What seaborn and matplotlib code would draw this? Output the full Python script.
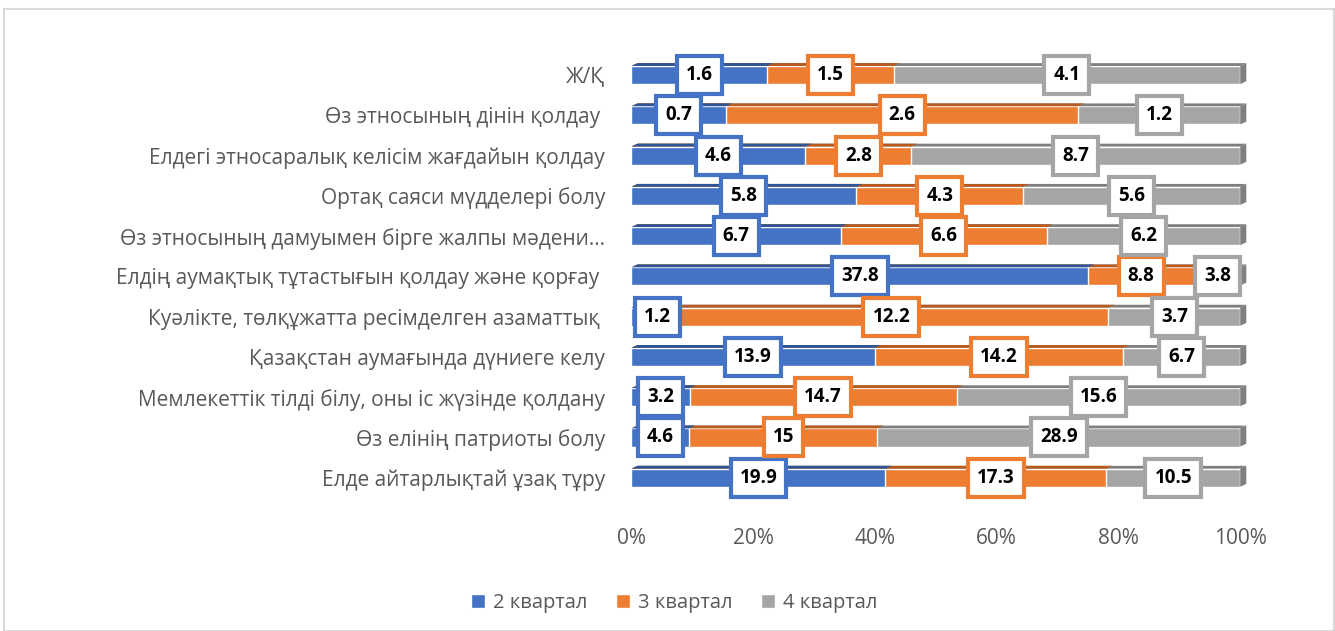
import numpy as np
import pandas as pd
import matplotlib
matplotlib.use("Agg")
import matplotlib.pyplot as plt
import seaborn as sns
from matplotlib.patches import Polygon, Rectangle

categories = ['Ж/Қ',
              'Өз этносының дінін қолдау ',
              'Елдегі этносаралық келісім жағдайын қолдау',
              'Ортақ саяси мүдделері болу',
              'Өз этносының дамуымен бірге жалпы мәдени...',
              'Елдің аумақтық тұтастығын қолдау және қорғау ',
              'Куәлікте, төлқұжатта ресімделген азаматтық ',
              'Қазақстан аумағында дүниеге келу',
              'Мемлекеттік тілді білу, оны іс жүзінде қолдану',
              'Өз елінің патриоты болу',
              'Елде айтарлықтай ұзақ тұру']
q2 = [1.6, 0.7, 4.6, 5.8, 6.7, 37.8, 1.2, 13.9, 3.2, 4.6, 19.9]
q3 = [1.5, 2.6, 2.8, 4.3, 6.6, 8.8, 12.2, 14.2, 14.7, 15, 17.3]
q4 = [4.1, 1.2, 8.7, 5.6, 6.2, 3.8, 3.7, 6.7, 15.6, 28.9, 10.5]
series = ['2 квартал', '3 квартал', '4 квартал']
ticks = [0, 20, 40, 60, 80, 100]

sns.set_theme(style="white")
plt.rcParams['font.family'] = ['Open Sans', 'DejaVu Sans']

colors = ['#4472C4', '#ED7D31', '#A5A5A5']
dark = ['#2F5597', '#B85A1E', '#7F7F7F']

df = pd.DataFrame({'cat': categories, 'q2': q2, 'q3': q3, 'q4': q4})
tot = df[['q2', 'q3', 'q4']].sum(axis=1)
pct = df[['q2', 'q3', 'q4']].div(tot, axis=0) * 100
cum = pct.cumsum(axis=1)
left = cum - pct

fig = plt.figure(figsize=(13.35, 6.31), dpi=100)
ax = fig.add_axes([0.473, 0.211, 0.456, 0.702])

dx, dy = 1.0, 0.07
cols = ['q2', 'q3', 'q4']
# draw cumulative bars from the last series back to the first
for i in [2, 1, 0]:
    z = 4 - i
    d = pd.DataFrame({'cat': categories, 'v': cum[cols[i]]})
    n0 = len(ax.patches)
    sns.barplot(data=d, y='cat', x='v', orient='h', color=colors[i],
                width=0.45, saturation=1, ax=ax, zorder=z)
    for p in ax.patches[n0:]:
        x1 = p.get_x() + p.get_width()
        yt = p.get_y()
        top = Polygon([(0, yt), (x1, yt), (x1 + dx, yt - dy), (dx, yt - dy)],
                      closed=True, facecolor=dark[i], edgecolor='none',
                      zorder=z, clip_on=False)
        ax.add_patch(top)
        if i == 2:
            side = Polygon([(x1, yt), (x1 + dx, yt - dy),
                            (x1 + dx, yt + p.get_height() - dy), (x1, yt + p.get_height())],
                           closed=True, facecolor=dark[i], edgecolor='none',
                           zorder=z, clip_on=False)
            ax.add_patch(side)

# data labels
vals = [q2, q3, q4]
for i in range(3):
    for j in range(len(categories)):
        xc = left[cols[i]].iloc[j] + pct[cols[i]].iloc[j] / 2
        xc = max(xc, 4.3)
        v = vals[i][j]
        ax.text(xc, j, f'{v:g}', ha='center', va='center', fontsize=13.5,
                fontweight='bold', color='black', zorder=10,
                bbox=dict(boxstyle='square,pad=0.48', facecolor='white',
                          edgecolor=colors[i], linewidth=3))

ax.set_xlim(0, 100)
ax.set_ylim(len(categories) - 0.5, -0.5)
ax.set_xticks(ticks)
ax.set_xticklabels([f'{t}%' for t in ticks])
ax.set_xlabel('')
ax.set_ylabel('')
for s in ax.spines.values():
    s.set_visible(False)
ax.tick_params(axis='x', colors='#595959', labelsize=15, length=0, pad=22)
ax.tick_params(axis='y', colors='#595959', labelsize=15, length=0, pad=19)

handles = [Rectangle((0, 0), 1, 1, facecolor=c) for c in colors]
fig.legend(handles, series, loc='center', bbox_to_anchor=(0.505, 0.044), ncol=3,
           frameon=False, fontsize=14.5, labelcolor='#595959',
           handlelength=0.7, handleheight=0.7, handletextpad=0.4, columnspacing=1.4)

fig.add_artist(Rectangle((0.003, 0.0), 0.996, 0.985, transform=fig.transFigure,
                         fill=False, edgecolor='#D9D9D9', linewidth=1.5))

fig.savefig('out.png', dpi=100)
